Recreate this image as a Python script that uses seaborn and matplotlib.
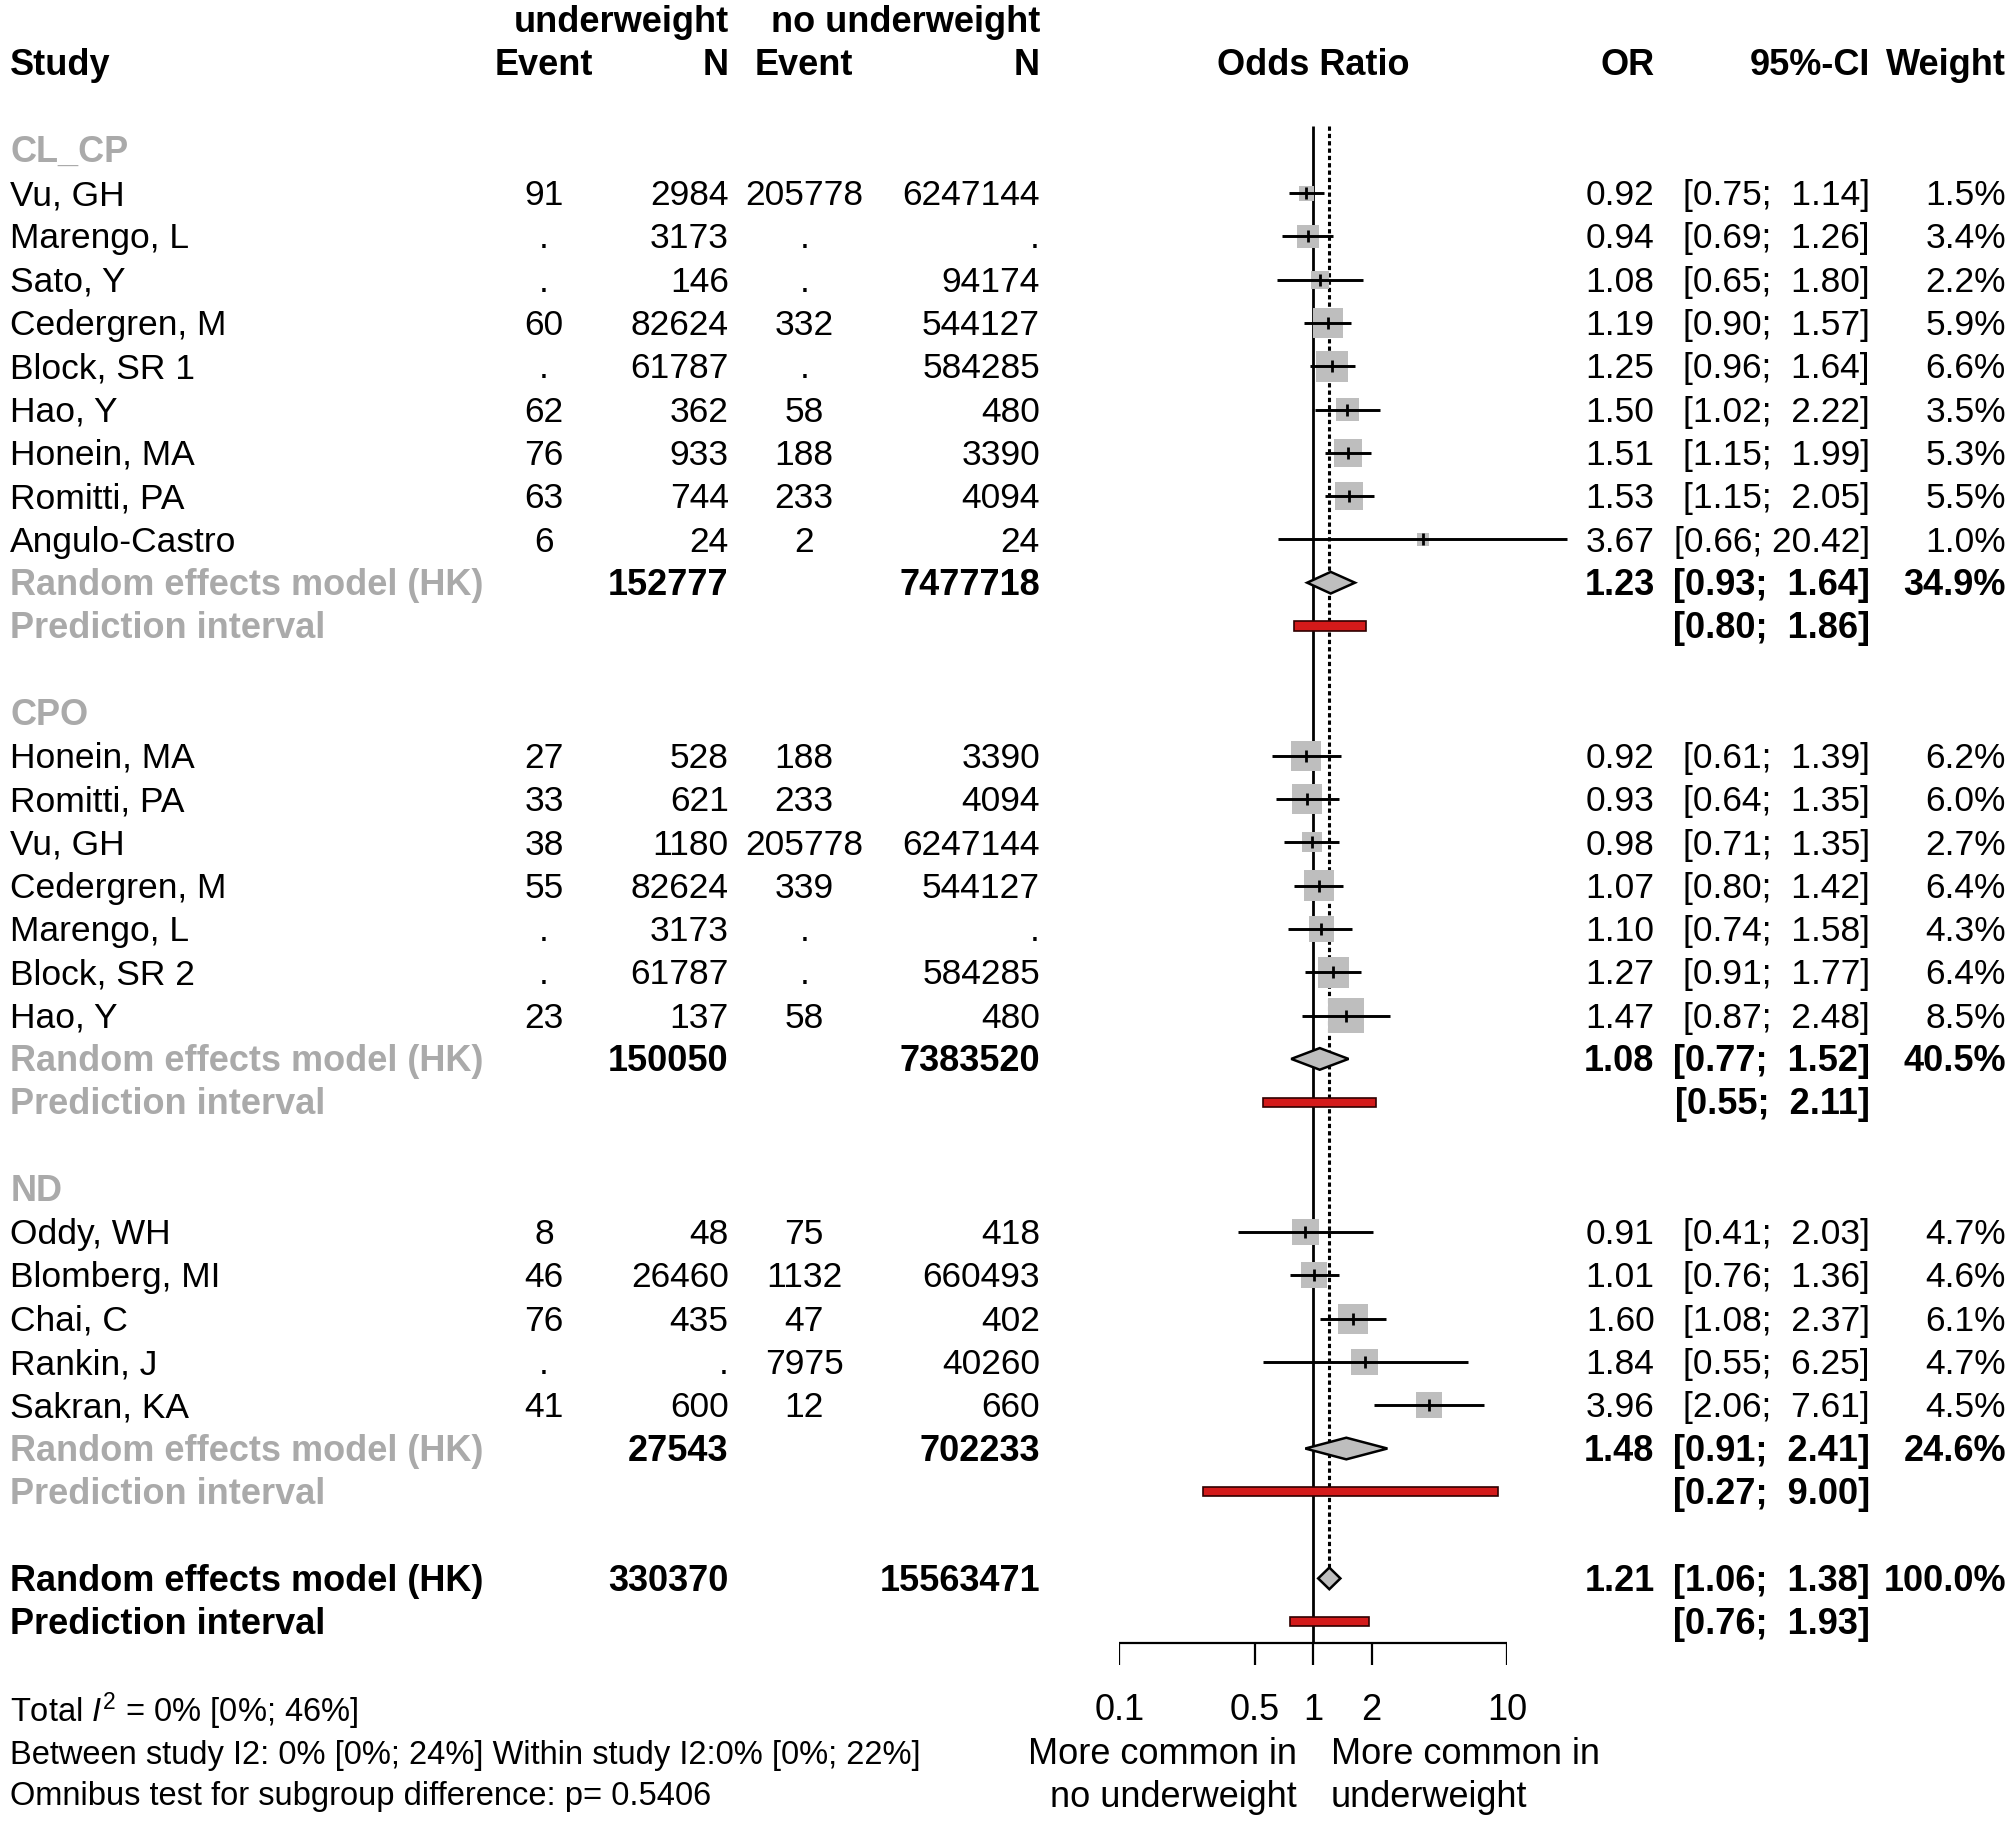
import numpy as np
import pandas as pd
import seaborn as sns
import matplotlib.pyplot as plt

sns.set_theme(style="white")
plt.rcParams['font.family'] = ['Liberation Sans', 'DejaVu Sans']
plt.rcParams['mathtext.fontset'] = 'custom'
plt.rcParams['mathtext.rm'] = 'Liberation Sans'
plt.rcParams['mathtext.it'] = 'Liberation Sans:italic'

# CL_CP
cl_names = ["Vu, GH", "Marengo, L", "Sato, Y", "Cedergren, M", "Block, SR 1",
            "Hao, Y", "Honein, MA", "Romitti, PA", "Angulo-Castro"]
cl_e1 = ["91", ".", ".", "60", ".", "62", "76", "63", "6"]
cl_n1 = ["2984", "3173", "146", "82624", "61787", "362", "933", "744", "24"]
cl_e2 = ["205778", ".", ".", "332", ".", "58", "188", "233", "2"]
cl_n2 = ["6247144", ".", "94174", "544127", "584285", "480", "3390", "4094", "24"]
cl_or = [0.92, 0.94, 1.08, 1.19, 1.25, 1.50, 1.51, 1.53, 3.67]
cl_lo = [0.75, 0.69, 0.65, 0.90, 0.96, 1.02, 1.15, 1.15, 0.66]
cl_hi = [1.14, 1.26, 1.80, 1.57, 1.64, 2.22, 1.99, 2.05, 20.42]
cl_w = [1.5, 3.4, 2.2, 5.9, 6.6, 3.5, 5.3, 5.5, 1.0]
cl_re = ["152777", "7477718", 1.23, 0.93, 1.64, 34.9]
cl_pi = [0.80, 1.86]

# CPO
cpo_names = ["Honein, MA", "Romitti, PA", "Vu, GH", "Cedergren, M", "Marengo, L",
             "Block, SR 2", "Hao, Y"]
cpo_e1 = ["27", "33", "38", "55", ".", ".", "23"]
cpo_n1 = ["528", "621", "1180", "82624", "3173", "61787", "137"]
cpo_e2 = ["188", "233", "205778", "339", ".", ".", "58"]
cpo_n2 = ["3390", "4094", "6247144", "544127", ".", "584285", "480"]
cpo_or = [0.92, 0.93, 0.98, 1.07, 1.10, 1.27, 1.47]
cpo_lo = [0.61, 0.64, 0.71, 0.80, 0.74, 0.91, 0.87]
cpo_hi = [1.39, 1.35, 1.35, 1.42, 1.58, 1.77, 2.48]
cpo_w = [6.2, 6.0, 2.7, 6.4, 4.3, 6.4, 8.5]
cpo_re = ["150050", "7383520", 1.08, 0.77, 1.52, 40.5]
cpo_pi = [0.55, 2.11]

# ND
nd_names = ["Oddy, WH", "Blomberg, MI", "Chai, C", "Rankin, J", "Sakran, KA"]
nd_e1 = ["8", "46", "76", ".", "41"]
nd_n1 = ["48", "26460", "435", ".", "600"]
nd_e2 = ["75", "1132", "47", "7975", "12"]
nd_n2 = ["418", "660493", "402", "40260", "660"]
nd_or = [0.91, 1.01, 1.60, 1.84, 3.96]
nd_lo = [0.41, 0.76, 1.08, 0.55, 2.06]
nd_hi = [2.03, 1.36, 2.37, 6.25, 7.61]
nd_w = [4.7, 4.6, 6.1, 4.7, 4.5]
nd_re = ["27543", "702233", 1.48, 0.91, 2.41, 24.6]
nd_pi = [0.27, 9.00]

all_re = ["330370", "15563471", 1.21, 1.06, 1.38, 100.0]
all_pi = [0.76, 1.93]

tick_vals = [0.1, 0.5, 1, 2, 10]
tick_labels = ["0.1", "0.5", "1", "2", "10"]

groups = [
    ("CL_CP", cl_names, cl_e1, cl_n1, cl_e2, cl_n2, cl_or, cl_lo, cl_hi, cl_w, cl_re, cl_pi),
    ("CPO", cpo_names, cpo_e1, cpo_n1, cpo_e2, cpo_n2, cpo_or, cpo_lo, cpo_hi, cpo_w, cpo_re, cpo_pi),
    ("ND", nd_names, nd_e1, nd_n1, nd_e2, nd_n2, nd_or, nd_lo, nd_hi, nd_w, nd_re, nd_pi),
]

FS = 25.5
FSB = 26
OFF = 0.28
GRAY = "#aaaaaa"
SQ = "#bebebe"
RED = "#d41a1a"
X_STUDY, X_E1, X_N1, X_E2, X_N2 = 0.0051, 0.2710, 0.3629, 0.4005, 0.5179
X_OR, X_CI, X_W = 0.8240, 0.9311, 0.9990
Y_TOP, Y_BOT = -3.46, 38.65

fig = plt.figure(figsize=(20.08, 18.23), dpi=100)
ax_t = fig.add_axes([0, 0, 1, 1])
ax_t.set_xlim(0, 1)
ax_t.set_ylim(Y_BOT, Y_TOP)
ax_t.axis("off")

ax_f = fig.add_axes([874 / 1568, 0, 303 / 1568, 1])
ax_f.set_xscale("log")


def put(x, y, s, ha="left", bold=False, color="black", size=None, ax=None):
    if size is None:
        size = FSB if bold else FS
    (ax or ax_t).text(x, y + OFF, s, ha=ha, va="baseline", fontsize=size,
                      fontweight="bold" if bold else "normal", color=color)


def ci_txt(lo, hi):
    return f"[{lo:.2f}; {hi:5.2f}]"


# header
put(X_N1, -3, "underweight", ha="right", bold=True)
put(X_N2, -3, "no underweight", ha="right", bold=True)
put(X_STUDY, -2, "Study", bold=True)
put(X_E1, -2, "Event", ha="center", bold=True)
put(X_N1, -2, "N", ha="right", bold=True)
put(X_E2, -2, "Event", ha="center", bold=True)
put(X_N2, -2, "N", ha="right", bold=True)
put(1, -2, "Odds Ratio", ha="center", bold=True, ax=ax_f)
put(X_OR, -2, "OR", ha="right", bold=True)
put(X_CI, -2, "95%-CI", ha="right", bold=True)
put(X_W, -2, "Weight", ha="right", bold=True)

recs = []
summaries = []
row = 0
for label, names, e1, n1, e2, n2, est, lo, hi, w, re, pi in groups:
    put(X_STUDY, row, label, bold=True, color=GRAY)
    row += 1
    for i in range(len(names)):
        put(X_STUDY, row, names[i])
        put(X_E1, row, e1[i], ha="center")
        put(X_N1, row, n1[i], ha="right")
        put(X_E2, row, e2[i], ha="center")
        put(X_N2, row, n2[i], ha="right")
        put(X_OR, row, f"{est[i]:.2f}", ha="right")
        put(X_CI, row, ci_txt(lo[i], hi[i]), ha="right")
        put(X_W, row, f"{w[i]:.1f}%", ha="right")
        recs.append(dict(row=row, est=est[i], lo=lo[i], hi=hi[i], w=w[i]))
        row += 1
    summaries.append((row, re, pi, GRAY))
    row += 3
summaries.append((row, all_re, all_pi, "black"))

for r, re, pi, col in summaries:
    put(X_STUDY, r, "Random effects model (HK)", bold=True, color=col)
    put(X_N1, r, re[0], ha="right", bold=True)
    put(X_N2, r, re[1], ha="right", bold=True)
    put(X_OR, r, f"{re[2]:.2f}", ha="right", bold=True)
    put(X_CI, r, ci_txt(re[3], re[4]), ha="right", bold=True)
    put(X_W, r, f"{re[5]:.1f}%", ha="right", bold=True)
    put(X_STUDY, r + 1, "Prediction interval", bold=True, color=col)
    put(X_CI, r + 1, ci_txt(pi[0], pi[1]), ha="right", bold=True)

df = pd.DataFrame(recs)
overall_row = summaries[-1][0]

# reference lines
ax_f.vlines(1, -0.55, overall_row + 1.5, color="black", lw=2.0, zorder=1)
ax_f.plot([all_re[2], all_re[2]], [-0.55, overall_row - 0.245], color="black",
          lw=2.2, dashes=(1.4, 1.0), zorder=1)

# study squares, CIs and point ticks
wmin, wmax = df["w"].min(), df["w"].max()
sns.scatterplot(data=df, x="est", y="row", size="w", sizes=(77.2 * wmin, 77.2 * wmax),
                size_norm=(wmin, wmax), marker="s", color=SQ, linewidth=0,
                legend=False, ax=ax_f, zorder=2)
ax_f.hlines(df["row"], df["lo"], df["hi"], color="black", lw=2.1, zorder=3, clip_on=False)
ax_f.plot(df["est"], df["row"], ls="none", marker="|", ms=8.6, mew=2.0,
          color="black", zorder=4)

# diamonds and prediction intervals
for r, re, pi, col in summaries:
    est, lo, hi = re[2], re[3], re[4]
    h = 0.25
    ax_f.fill([lo, est, hi, est], [r, r - h, r, r + h], facecolor=SQ,
              edgecolor="black", lw=1.8, zorder=3)
    ax_f.barh(r + 1, pi[1] - pi[0], left=pi[0], height=0.21, color=RED,
              edgecolor="#300000", linewidth=1.2, zorder=3)

# x axis
ya = overall_row + 1.5
ax_f.hlines(ya, tick_vals[0], tick_vals[-1], color="black", lw=1.6, zorder=1)
ax_f.vlines(tick_vals, ya, ya + 0.5, color="black", lw=1.6, zorder=1)
for t, lab in zip(tick_vals, tick_labels):
    put(t, ya + 1.5, lab, ha="center", size=26, ax=ax_f)
put(0.82, ya + 2.5, "More common in", ha="right", size=26, ax=ax_f)
put(0.82, ya + 3.5, "no underweight", ha="right", size=26, ax=ax_f)
put(1.23, ya + 2.5, "More common in", ha="left", size=26, ax=ax_f)
put(1.23, ya + 3.5, "underweight", ha="left", size=26, ax=ax_f)

ax_f.set_xlim(0.1, 10)
ax_f.set_ylim(Y_BOT, Y_TOP)
ax_f.axis("off")

# footnote
put(X_STUDY, 36.05, r"Total $I^2$ = 0% [0%; 46%]", size=23.5)
put(X_STUDY, 37.0, "Between study I2: 0% [0%; 24%] Within study I2:0% [0%; 22%]", size=23.5)
put(X_STUDY, 37.96, "Omnibus test for subgroup difference: p= 0.5406", size=23.5)

fig.savefig("out.png", dpi=100, facecolor="white")
